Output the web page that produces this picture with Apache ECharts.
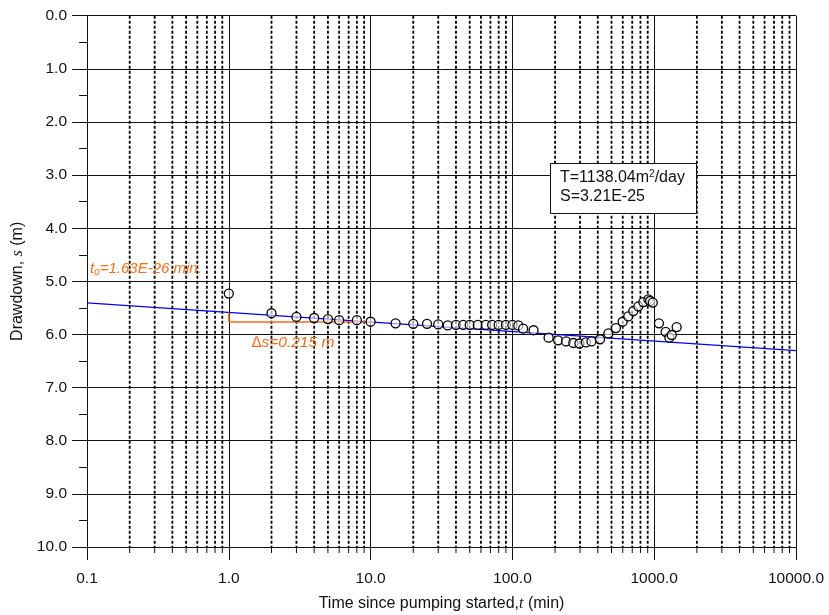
<!DOCTYPE html>
<html>
<head>
<meta charset="utf-8">
<script src="https://cdn.jsdelivr.net/npm/echarts@6/dist/echarts.min.js"></script>
<style>html,body{margin:0;padding:0;background:#fff}#c{width:829px;height:615px}</style>
</head>
<body>
<div id="c"></div>
<script>
// Observed data: time (min) and drawdown (m)
const timeMin = [1, 2, 3, 4, 5, 6, 8, 10, 15, 20, 25, 30, 35, 40, 45, 50, 57, 65, 72, 80, 90, 100, 110, 119, 141, 180, 210, 239, 269, 297, 330, 361, 415, 475, 537, 599, 656, 712, 773, 838, 910, 935, 977, 1080, 1204, 1280, 1330, 1440];
const drawdown = [5.23, 5.60, 5.67, 5.69, 5.71, 5.73, 5.73, 5.76, 5.79, 5.80, 5.80, 5.81, 5.83, 5.82, 5.82, 5.82, 5.82, 5.82, 5.82, 5.82, 5.82, 5.82, 5.83, 5.89, 5.92, 6.06, 6.11, 6.13, 6.16, 6.17, 6.15, 6.13, 6.09, 5.98, 5.88, 5.76, 5.66, 5.56, 5.47, 5.39, 5.34, 5.37, 5.40, 5.79, 5.95, 6.06, 6.01, 5.86];
// Fitted straight line (Cooper-Jacob)
const fitT = [0.1, 10000];
const fitS = [5.405, 6.305];
// Delta-s construction (orange)
const dsT = [1, 1, 10];
const dsS = [5.585, 5.765, 5.765];
// Axis settings
const xMin = 0.1, xMax = 10000;
const yMin = 0, yMax = 10;
const minorMult = [2, 3, 4, 5, 6, 7, 8, 9];
const decades = [0.1, 1, 10, 100, 1000];
const minorTicks = [];
decades.forEach(d => minorMult.forEach(m => minorTicks.push(+(d * m).toPrecision(3))));

const chart = echarts.init(document.getElementById('c'), null, {renderer: 'canvas'});
const FONT = 'Liberation Sans, Arial, sans-serif';
const ORANGE = '#ff6a13';

chart.setOption({
  animation: false,
  backgroundColor: '#fff',
  grid: {left: 87, right: 33, top: 15.7, bottom: 68, containLabel: false, outerBoundsMode: 'none'},
  xAxis: {
    type: 'log', logBase: 10, min: xMin, max: xMax, interval: 1,
    name: '{n|Time since pumping started,}{i|t}{n| (min)}',
    nameLocation: 'middle', nameGap: 49,
    nameTextStyle: {rich: {
      n: {fontFamily: FONT, fontSize: 16, color: '#111'},
      i: {fontFamily: 'Liberation Serif, Times New Roman, serif', fontStyle: 'italic', fontSize: 16, color: '#111'}
    }},
    axisLine: {show: true, onZero: false, lineStyle: {color: '#111', width: 1}},
    axisTick: {show: true, length: 13, lineStyle: {color: '#111', width: 1}},
    axisLabel: {margin: 24, fontFamily: FONT, fontSize: 15.5, color: '#111',
      formatter: v => Number(v).toFixed(1)},
    splitLine: {show: true, lineStyle: {color: '#111', width: 1}},
    minorTick: {show: false}, minorSplitLine: {show: false}
  },
  yAxis: {
    type: 'value', inverse: true, min: yMin, max: yMax, interval: 1,
    name: '{n|Drawdown, }{i|s}{n| (m)}',
    nameLocation: 'middle', nameGap: 54, nameRotate: 90,
    nameTextStyle: {rich: {
      n: {fontFamily: FONT, fontSize: 16, color: '#111'},
      i: {fontFamily: 'Liberation Serif, Times New Roman, serif', fontStyle: 'italic', fontSize: 16, color: '#111'}
    }},
    axisLine: {show: true, lineStyle: {color: '#111', width: 1}},
    axisTick: {show: true, length: 15, lineStyle: {color: '#111', width: 1}},
    minorTick: {show: true, splitNumber: 2, length: 8, lineStyle: {color: '#111', width: 1}},
    axisLabel: {margin: 20, fontFamily: FONT, fontSize: 15.5, color: '#111',
      formatter: v => Number(v).toFixed(1)},
    splitLine: {show: true, lineStyle: {color: '#111', width: 1}}
  },
  series: [
    {
      type: 'custom', silent: true, clip: false, z: 1,
      data: minorTicks.map(t => [t, 0]),
      encode: {x: 0, y: 1},
      renderItem: (params, api) => {
        const t = api.value(0);
        const p0 = api.coord([t, yMin]);
        const p1 = api.coord([t, yMax]);
        return {type: 'group', children: [
          {type: 'line', shape: {x1: p0[0], y1: p0[1], x2: p1[0], y2: p1[1]},
           style: {stroke: '#000', lineWidth: 1.8, lineDash: [3, 2]}},
          {type: 'line', shape: {x1: p1[0], y1: p1[1], x2: p1[0], y2: p1[1] + 6},
           style: {stroke: '#111', lineWidth: 1}}
        ]};
      }
    },
    {
      type: 'line', data: fitT.map((t, i) => [t, fitS[i]]),
      symbol: 'none', lineStyle: {color: '#0000ff', width: 1.2}, z: 3, silent: true
    },
    {
      type: 'line', data: dsT.map((t, i) => [t, dsS[i]]),
      symbol: 'none', lineStyle: {color: ORANGE, width: 1.4}, z: 3, silent: true
    },
    {
      type: 'scatter', data: timeMin.map((t, i) => [t, drawdown[i]]),
      symbol: 'circle', symbolSize: 9,
      itemStyle: {color: 'rgba(255,255,255,0.6)', borderColor: '#000', borderWidth: 1.3, opacity: 1},
      z: 4, silent: true
    }
  ],
  graphic: [
    {type: 'text', left: 90, top: 261, z: 5, style: {
      text: '{i|t}{s|o}{i|=1.63E-26 min.}',
      rich: {
        i: {fontFamily: FONT, fontStyle: 'italic', fontSize: 15, fill: ORANGE},
        s: {fontFamily: FONT, fontStyle: 'italic', fontSize: 10, fill: ORANGE, padding: [8, 0, 0, 0]}
      }
    }},
    {type: 'text', left: 252, top: 335, z: 5, style: {
      text: '∆s=0.215 m', fontFamily: FONT, fontStyle: 'italic', fontSize: 15.5, fill: ORANGE
    }},
    {type: 'rect', left: 550, top: 163, z: 6, shape: {width: 146, height: 50},
     style: {fill: '#fff', stroke: '#111', lineWidth: 1}},
    {type: 'text', left: 560, top: 169, z: 7, style: {
      text: '{a|T=1138.04m}{b|2}{a|/day}\n{a|S=3.21E-25}',
      rich: {
        a: {fontFamily: FONT, fontSize: 16, fill: '#111', lineHeight: 19},
        b: {fontFamily: FONT, fontSize: 10, fill: '#111', padding: [0, 0, 7, 0], lineHeight: 19}
      }
    }}
  ]
});
</script>
</body>
</html>
